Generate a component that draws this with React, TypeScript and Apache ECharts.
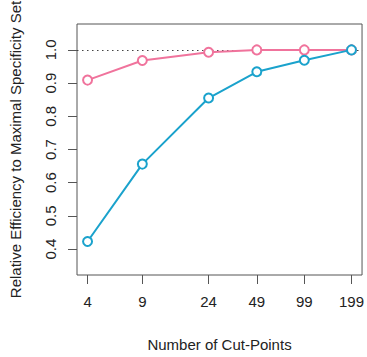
import React, { useEffect, useRef } from "react";
import * as echarts from "echarts";

// Number of cut-points (plotted on a log scale)
const cutPoints = [4, 9, 24, 49, 99, 199];
// Relative efficiency for the two designs
const pinkSeries = [0.909, 0.968, 0.993, 1.0, 1.0, 1.0];
const blueSeries = [0.423, 0.656, 0.855, 0.934, 0.969, 1.0];
const yTicks = [0.4, 0.5, 0.6, 0.7, 0.8, 0.9, 1.0];

const PINK = "#F0739C";
const BLUE = "#1AA2CC";
const INK = "#222";
const FONT = "Liberation Sans, Arial, Helvetica, sans-serif";
const FS = 15;

export default function App() {
  const ref = useRef<HTMLDivElement>(null);

  useEffect(() => {
    if (!ref.current) return;
    const chart = echarts.init(ref.current, undefined, { renderer: "svg" });

    const lx = cutPoints.map((c) => Math.log(c));
    const lo = lx[0];
    const hi = lx[lx.length - 1];
    const xpad = (hi - lo) * 0.04;
    const ylo = 0.35;
    const yhi = 1.05;
    const ypad = (yhi - ylo) * 0.04;

    const toData = (vals: number[]) => vals.map((v, i) => [lx[i], v]);

    chart.setOption({
      animation: false,
      backgroundColor: "#fff",
      textStyle: { fontFamily: FONT },
      grid: {
        left: 77,
        right: 3,
        top: 24,
        bottom: 71,
        show: true,
        borderColor: "#555",
        borderWidth: 1,
        backgroundColor: "transparent",
      },
      xAxis: {
        type: "value",
        min: lo - xpad,
        max: hi + xpad,
        name: "Number of Cut-Points",
        nameLocation: "middle",
        nameGap: 62,
        nameTextStyle: { fontSize: FS, color: INK, fontFamily: FONT },
        axisLine: { show: false },
        splitLine: { show: false },
        axisTick: {
          show: true,
          length: 9,
          lineStyle: { color: "#555", width: 1 },
          customValues: lx,
        },
        axisLabel: {
          fontSize: FS,
          color: INK,
          margin: 19,
          customValues: lx,
          formatter: (v: number) => String(Math.round(Math.exp(v))),
        },
      },
      yAxis: {
        type: "value",
        min: ylo - ypad,
        max: yhi + ypad,
        name: "Relative Efficiency to Maximal Specificity Set",
        nameLocation: "middle",
        nameGap: 54,
        nameTextStyle: { fontSize: FS, color: INK, fontFamily: FONT },
        axisLine: { show: false },
        splitLine: { show: false },
        axisTick: {
          show: true,
          length: 9,
          lineStyle: { color: "#555", width: 1 },
          customValues: yTicks,
        },
        axisLabel: {
          fontSize: FS,
          color: INK,
          margin: 19,
          rotate: 90,
          customValues: yTicks,
          formatter: (v: number) => v.toFixed(1),
        },
      },
      series: [
        {
          type: "line",
          data: toData(pinkSeries),
          symbol: "emptyCircle",
          symbolSize: 9,
          lineStyle: { color: PINK, width: 2 },
          itemStyle: { color: PINK, borderColor: PINK, borderWidth: 2 },
          z: 3,
          markLine: {
            silent: true,
            symbol: "none",
            label: { show: false },
            lineStyle: { color: "#444", width: 1.2, type: [1.5, 3.5] },
            data: [{ yAxis: 1.0 }],
            z: 2,
          },
        },
        {
          type: "line",
          data: toData(blueSeries),
          symbol: "emptyCircle",
          symbolSize: 9,
          lineStyle: { color: BLUE, width: 2 },
          itemStyle: { color: BLUE, borderColor: BLUE, borderWidth: 2 },
          z: 4,
        },
      ],
    });

    return () => chart.dispose();
  }, []);

  return <div ref={ref} style={{ width: 367, height: 357, position: "absolute", left: 0, top: 0 }} />;
}
